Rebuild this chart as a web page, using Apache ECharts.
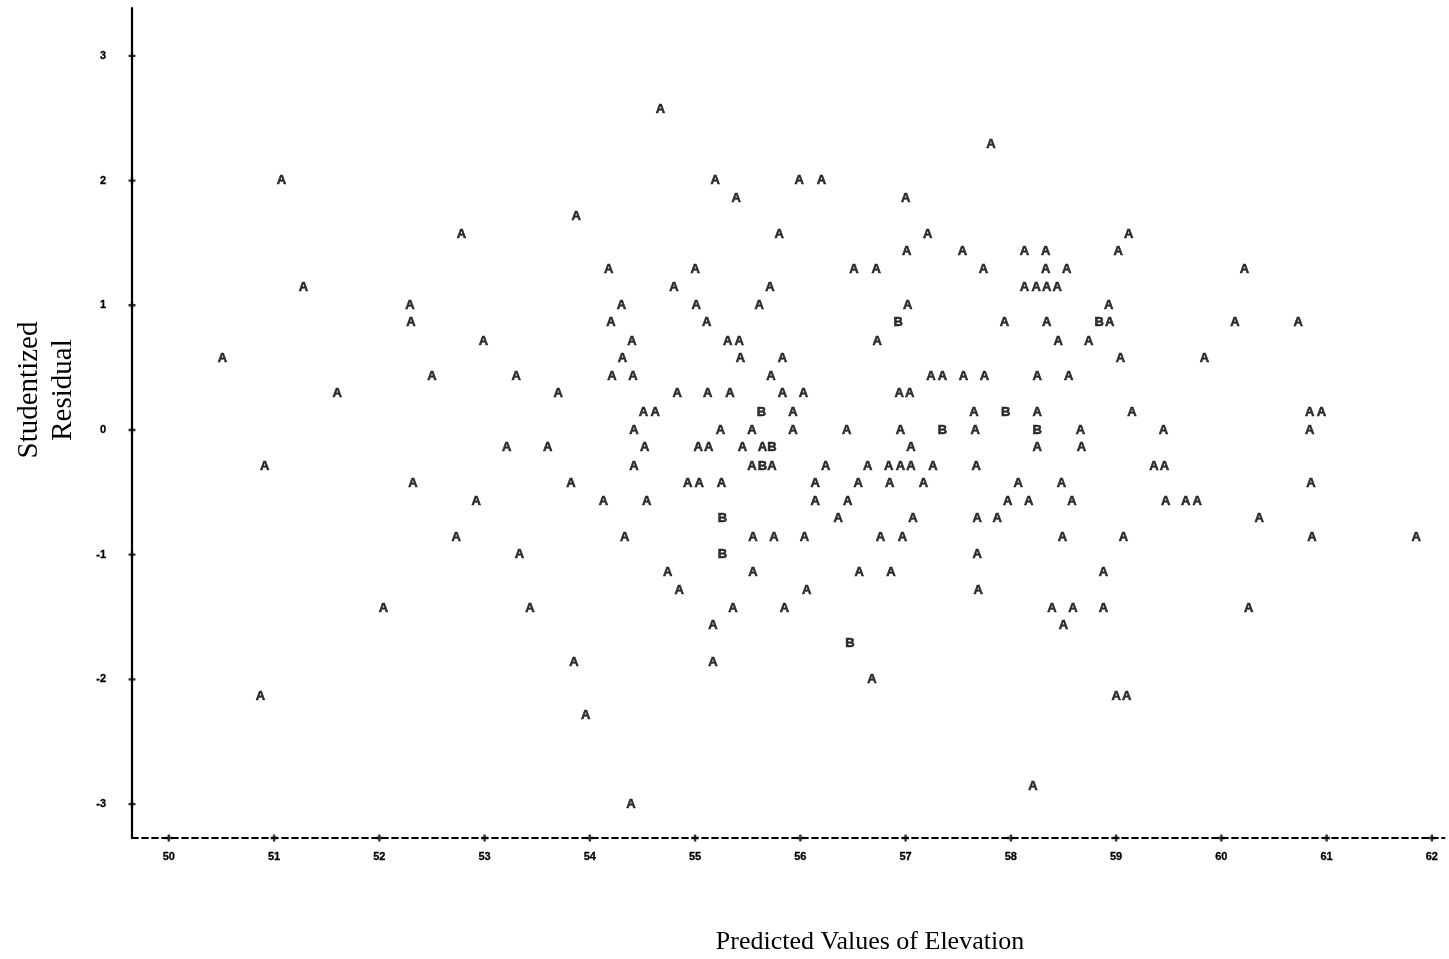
<!DOCTYPE html>
<html>
<head>
<meta charset="utf-8">
<script src="https://cdn.jsdelivr.net/npm/echarts@6/dist/echarts.min.js"></script>
<style>
html,body{margin:0;padding:0;background:#fff;}
#chart{width:1449px;height:959px;}
</style>
</head>
<body>
<div id="chart"></div>
<script>
// ---- data ----
const xTicks = [50, 51, 52, 53, 54, 55, 56, 57, 58, 59, 60, 61, 62];
const yTicks = [-3, -2, -1, 0, 1, 2, 3];
const xTitle = 'Predicted Values of Elevation';
const yTitle = 'Studentized\nResidual';

// residual levels (rows) and predicted values of single observations ("A") on each row
const residualLevels = [2.57, 2.29, 2, 1.86, 1.71, 1.57, 1.43, 1.29, 1.14, 1, 0.86, 0.71, 0.57, 0.43, 0.29, 0.14, 0,
  -0.14, -0.29, -0.43, -0.57, -0.71, -0.86, -1, -1.14, -1.29, -1.43, -1.57, -1.86, -2, -2.14, -2.29, -2.86, -3];
const predictedA = [
  [54.67],
  [57.81],
  [51.07, 55.19, 55.99, 56.20],
  [55.39, 57.00],
  [53.87],
  [52.78, 55.80, 57.21, 59.12],
  [57.01, 57.54, 58.13, 58.33, 59.02],
  [54.18, 55.00, 56.51, 56.72, 57.74, 58.33, 58.53, 60.22],
  [51.28, 54.80, 55.71, 58.13, 58.24, 58.34, 58.44],
  [52.29, 54.30, 55.01, 55.61, 57.02, 58.93],
  [52.30, 54.20, 55.11, 57.94, 58.34, 58.94, 60.13, 60.73],
  [52.99, 54.40, 55.31, 55.42, 56.73, 58.45, 58.74],
  [50.51, 54.31, 55.43, 55.83, 59.04, 59.84],
  [52.50, 53.30, 54.21, 54.41, 55.72, 57.24, 57.35, 57.55, 57.75, 58.25, 58.55],
  [51.60, 53.70, 54.83, 55.12, 55.33, 55.83, 56.03, 56.94, 57.04],
  [54.51, 54.62, 55.93, 57.65, 58.25, 59.15, 60.84, 60.95],
  [54.42, 55.24, 55.54, 55.93, 56.44, 56.95, 57.66, 58.66, 59.45, 60.84],
  [53.21, 53.60, 54.52, 55.03, 55.13, 55.45, 55.64, 57.05, 58.25, 58.67],
  [50.91, 54.42, 55.54, 55.73, 56.24, 56.64, 56.84, 56.95, 57.05, 57.26, 57.67, 59.36, 59.46],
  [52.32, 53.82, 54.93, 55.04, 55.25, 56.14, 56.55, 56.85, 57.17, 58.07, 58.48, 60.85],
  [52.92, 54.13, 54.54, 56.14, 56.45, 57.97, 58.17, 58.58, 59.47, 59.66, 59.77],
  [56.36, 57.07, 57.68, 57.87, 60.36],
  [52.73, 54.33, 55.55, 55.75, 56.04, 56.76, 56.97, 58.49, 59.07, 60.86, 61.85],
  [53.33, 57.68],
  [54.74, 55.55, 56.56, 56.86, 58.88],
  [54.85, 56.06, 57.69],
  [52.04, 53.43, 55.36, 55.85, 58.39, 58.59, 58.88, 60.26],
  [55.17, 58.50],
  [53.85, 55.17],
  [56.68],
  [50.87, 59.00, 59.10],
  [53.96],
  [58.21],
  [54.39]
];
// two coinciding observations ("B")
const predictedB = [56.93, 58.84, 55.63, 57.95, 57.35, 58.25, 55.73, 55.64, 55.26, 55.26, 56.47];
const residualB  = [0.86, 0.86, 0.14, 0.14, 0, 0, -0.14, -0.29, -0.71, -1, -1.71];

// ---- chart ----
const xMin = 49.65, xMax = 62.12, yMin = -3.272, yMax = 3.384;
const dataA = [];
predictedA.forEach((row, i) => row.forEach(x => dataA.push([x, residualLevels[i]])));
const dataB = predictedB.map((x, i) => [x, residualB[i]]);

const plusPath = 'path://M2,0H4V2H6V4H4V6H2V4H0V2H2Z';
const letterLabel = (t) => ({
  show: true, position: 'inside', formatter: t, color: '#000',
  fontFamily: '"Liberation Sans", Arial, sans-serif', fontWeight: 'bold', fontSize: 13,
  textBorderColor: '#000', textBorderWidth: 0.6
});
const tickLabel = {
  color: '#000', fontFamily: '"Liberation Sans", Arial, sans-serif', fontWeight: 'bold', fontSize: 11,
  textBorderColor: '#000', textBorderWidth: 0.3
};

const chart = echarts.init(document.getElementById('chart'), null, {renderer: 'canvas'});
chart.setOption({
  backgroundColor: '#fff',
  animation: false,
  grid: {left: 132, right: 4.5, top: 8, bottom: 121, containLabel: false},
  xAxis: {
    type: 'value', min: xMin, max: xMax,
    axisLine: {show: true, onZero: false, lineStyle: {color: '#000', width: 1.8, type: [6, 4]}},
    axisTick: {show: false},
    splitLine: {show: false},
    axisLabel: Object.assign({customValues: xTicks, margin: 13, formatter: v => String(v)}, tickLabel)
  },
  yAxis: {
    type: 'value', min: yMin, max: yMax,
    axisLine: {show: true, onZero: false, lineStyle: {color: '#000', width: 2.2}},
    axisTick: {show: false},
    splitLine: {show: false},
    axisLabel: Object.assign({customValues: yTicks, margin: 26, formatter: v => String(v)}, tickLabel)
  },
  graphic: [
    {type: 'text', x: 46, y: 390, rotation: Math.PI / 2,
     style: {text: yTitle, font: '29px "Liberation Serif", "Times New Roman", serif', fill: '#000',
             textAlign: 'center', textVerticalAlign: 'middle', lineHeight: 34}},
    {type: 'text', x: 870, y: 942,
     style: {text: xTitle, font: '26px "Liberation Serif", "Times New Roman", serif', fill: '#000',
             textAlign: 'center', textVerticalAlign: 'middle'}}
  ],
  series: [
    {type: 'scatter', name: 'A', data: dataA, symbol: 'circle', symbolSize: 1,
     itemStyle: {color: 'rgba(0,0,0,0)'}, label: letterLabel('A'), silent: true},
    {type: 'scatter', name: 'B', data: dataB, symbol: 'circle', symbolSize: 1,
     itemStyle: {color: 'rgba(0,0,0,0)'}, label: letterLabel('B'), silent: true},
    {type: 'scatter', name: 'xTickMarks', data: xTicks.map(v => [v, yMin]), symbol: plusPath, symbolSize: 7,
     itemStyle: {color: '#000'}, clip: false, silent: true},
    {type: 'scatter', name: 'yTickMarks', data: yTicks.map(v => [xMin, v]), symbol: plusPath, symbolSize: 7,
     itemStyle: {color: '#000'}, clip: false, silent: true}
  ]
});
</script>
</body>
</html>
